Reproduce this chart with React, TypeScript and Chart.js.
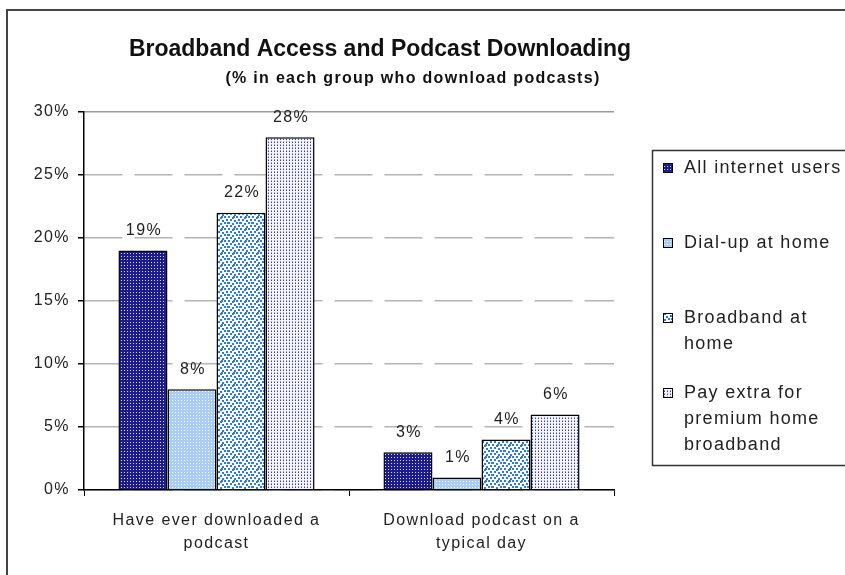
import { useEffect, useRef } from "react";
import { Chart, registerables } from "chart.js";
Chart.register(...registerables);

const categories = [["Have ever downloaded a", "podcast"], ["Download podcast on a", "typical day"]];
const seriesNames = ["All internet users", "Dial-up at home", "Broadband at home", "Pay extra for premium home broadband"];
const legendLines = [["All internet users"], ["Dial-up at home"], ["Broadband at", "home"], ["Pay extra for", "premium home", "broadband"]];
const allUsers = [19, 3];
const dialUp = [8, 1];
const broadband = [22, 4];
const payExtra = [28, 6];
const titleText = "Broadband Access and Podcast Downloading";
const subtitleText = "(% in each group who download podcasts)";

const FONT = "'Liberation Sans', Arial, sans-serif";

function makePattern(kind: number): CanvasPattern | string {
  const c = document.createElement("canvas");
  const x = c.getContext("2d")!;
  if (kind === 0) {
    c.width = 3; c.height = 3;
    x.fillStyle = "#1c1c8e"; x.fillRect(0, 0, 3, 3);
    x.fillStyle = "#dcdcff"; x.fillRect(1, 1, 1, 1);
  } else if (kind === 1) {
    c.width = 3; c.height = 3;
    x.fillStyle = "#a9cdf6"; x.fillRect(0, 0, 3, 3);
    x.fillStyle = "#ffffff"; x.fillRect(1, 1, 1, 1);
  } else if (kind === 2) {
    c.width = 12; c.height = 12;
    x.fillStyle = "#ffffff"; x.fillRect(0, 0, 12, 12);
    x.fillStyle = "#2f7ad6";
    const pts = [[0,0],[4,1],[8,0],[2,3],[6,4],[10,3],[0,6],[4,7],[8,6],[2,9],[6,10],[10,9],[11,6],[5,0]];
    for (const [px, py] of pts) x.fillRect(px, py, 2, 2);
  } else {
    c.width = 3; c.height = 3;
    x.fillStyle = "#f4f4ff"; x.fillRect(0, 0, 3, 3);
    x.fillStyle = "#3a3ab8"; x.fillRect(1, 1, 1, 1);
    x.fillStyle = "#9a9ae0"; x.fillRect(1, 0, 1, 1);
  }
  return x.createPattern(c, "repeat")!;
}

export default function App() {
  const ref = useRef<HTMLCanvasElement>(null);
  useEffect(() => {
    const canvas = ref.current!;
    const patterns = [0, 1, 2, 3].map(makePattern);
    const values = [allUsers, dialUp, broadband, payExtra];

    const decor = {
      id: "decor",
      beforeDraw(chart: any) {
        (chart.ctx as any).letterSpacing = "1.4px";
      },
      afterDatasetsDraw(chart: any) {
        const ctx = chart.ctx as CanvasRenderingContext2D;
        ctx.save();
        ctx.font = `16px ${FONT}`;
        ctx.fillStyle = "#222";
        ctx.textAlign = "center";
        ctx.textBaseline = "bottom";
        chart.data.datasets.forEach((ds: any, i: number) => {
          const meta = chart.getDatasetMeta(i);
          meta.data.forEach((el: any, j: number) => {
            ctx.fillText(`${ds.data[j]}%`, el.x + 1, el.y - 12);
          });
        });
        ctx.restore();
      },
      afterDraw(chart: any) {
        const ctx = chart.ctx as CanvasRenderingContext2D;
        ctx.save();
        // outer frame
        ctx.strokeStyle = "#444";
        ctx.lineWidth = 2;
        ctx.beginPath();
        ctx.moveTo(7, 575);
        ctx.lineTo(7, 10);
        ctx.lineTo(845, 10);
        ctx.stroke();
        // title
        ctx.fillStyle = "#111";
        ctx.textAlign = "center";
        ctx.textBaseline = "middle";
        ctx.font = `bold 23px ${FONT}`;
        (ctx as any).letterSpacing = "0px";
        ctx.fillText(titleText, 380, 50);
        ctx.font = `bold 16px ${FONT}`;
        (ctx as any).letterSpacing = "1.3px";
        ctx.fillText(subtitleText, 413, 79);
        // legend
        ctx.strokeStyle = "#333";
        ctx.lineWidth = 1.5;
        ctx.strokeRect(652.5, 150.5, 220, 315);
        ctx.font = `18px ${FONT}`;
        (ctx as any).letterSpacing = "1.3px";
        ctx.textAlign = "left";
        ctx.fillStyle = "#222";
        legendLines.forEach((lines, i) => {
          const y0 = 168 + i * 75;
          ctx.fillStyle = patterns[i] as any;
          ctx.fillRect(663, y0 - 5, 10, 10);
          ctx.strokeStyle = "#000";
          ctx.lineWidth = 1;
          ctx.strokeRect(663.5, y0 - 4.5, 9, 9);
          ctx.fillStyle = "#222";
          lines.forEach((l, k) => ctx.fillText(l, 684, y0 + k * 26));
        });
        ctx.restore();
        (ctx as any).letterSpacing = "0px";
      },
    };

    const chart = new Chart(canvas, {
      type: "bar",
      data: {
        labels: categories as any,
        datasets: values.map((v, i) => ({
          label: seriesNames[i],
          data: v,
          backgroundColor: patterns[i] as any,
          borderColor: "#000",
          borderWidth: 1.5,
          categoryPercentage: 0.74,
          barPercentage: 1,
        })),
      },
      options: {
        animation: false,
        responsive: false,
        layout: { padding: { top: 112, right: 231, bottom: 0, left: 0 } },
        plugins: {
          legend: { display: false },
          title: { display: false },
          tooltip: { enabled: false },
        },
        scales: {
          x: {
            grid: { offset: true, drawOnChartArea: false, tickLength: 6, color: "#000", lineWidth: 1 },
            border: { color: "#000", width: 1.5 },
            ticks: { font: { family: FONT, size: 16, lineHeight: 1.45 }, color: "#222", maxRotation: 0, padding: 13 },
            afterFit: (s: any) => { s.height = 85; },
          },
          y: {
            min: 0,
            max: 30,
            ticks: { stepSize: 5, callback: (v: any) => `${v}%`, font: { family: FONT, size: 16 }, color: "#222", padding: 8 },
            grid: {
              color: (c: any) => (c.tick && c.tick.value === 30 ? "#999" : "#b4b4b4"),
              tickColor: "#000",
              tickLength: 6,
              lineWidth: 1.5,
              tickBorderDash: [],
            },
            border: {
              color: "#000",
              width: 1.5,
              dash: (c: any) => (c.tick && c.tick.value === 30 ? [] : [38, 12]),
            } as any,
            afterFit: (s: any) => { s.width = 84; },
          },
        },
      },
      plugins: [decor],
    });
    return () => chart.destroy();
  }, []);
  return (
    <div style={{ position: "fixed", left: 0, top: 0, width: 845, height: 575, background: "#fff" }}>
      <canvas ref={ref} width={845} height={575} style={{ display: "block" }} />
    </div>
  );
}
